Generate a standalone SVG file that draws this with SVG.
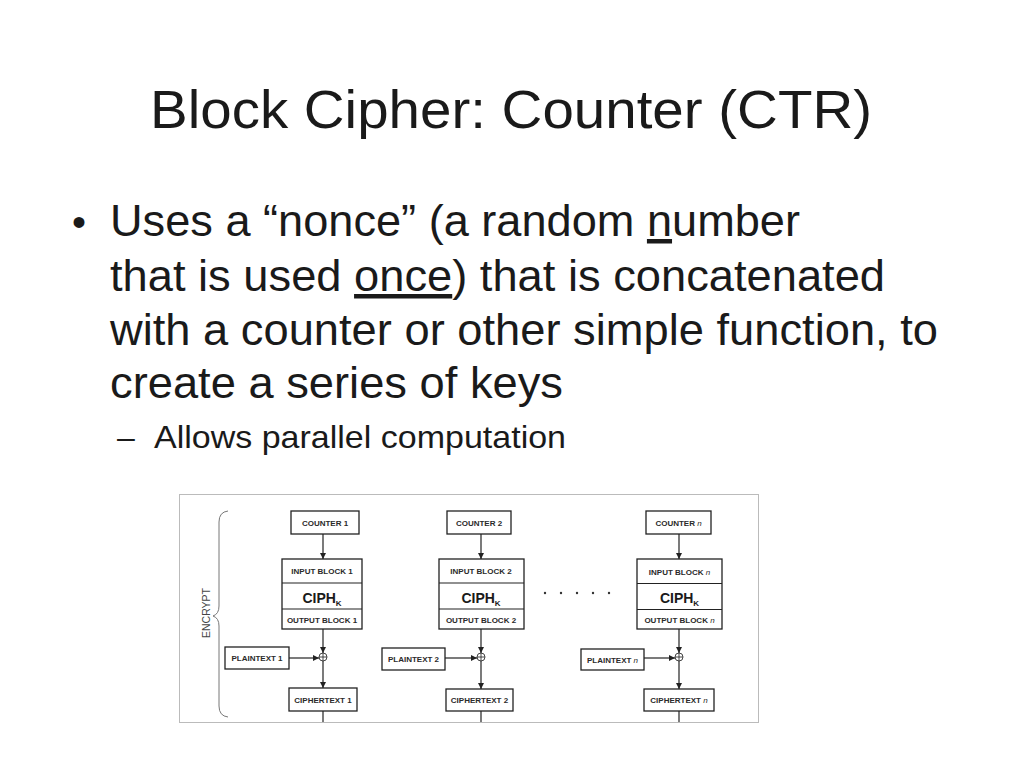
<svg xmlns="http://www.w3.org/2000/svg" width="1024" height="768" viewBox="0 0 1024 768">
<defs>
<marker id="ah" viewBox="0 0 6 6" refX="6" refY="3" markerWidth="6" markerHeight="6" markerUnits="userSpaceOnUse" orient="auto">
<path d="M0,0 L6,3 L0,6 Z" fill="#222"/>
</marker>
</defs>
<style>
.slide{font-family:"Liberation Sans",Arial,sans-serif;fill:#1a1a1a}
.box{fill:#fff;stroke:#222;stroke-width:1.3}
.lbl{font-family:"Liberation Sans",Arial,sans-serif;font-weight:bold;font-size:8px;fill:#2a2a2a;text-anchor:middle}
.ciph{font-family:"Liberation Sans",Arial,sans-serif;font-weight:bold;font-size:14px;fill:#1a1a1a;text-anchor:middle}
.con{stroke:#222;stroke-width:1.2;fill:none}
.xor{fill:#fff;stroke:#333;stroke-width:0.9}
</style>
<rect width="1024" height="768" fill="#fff"/>
<text class="slide" x="150" y="128" font-size="54" textLength="722" lengthAdjust="spacingAndGlyphs">Block Cipher: Counter (CTR)</text>
<text class="slide" x="72" y="236" font-size="40">•</text>
<text class="slide" x="110" y="236" font-size="45" textLength="690" lengthAdjust="spacingAndGlyphs">Uses a “nonce” (a random <tspan text-decoration="underline">n</tspan>umber</text>
<text class="slide" x="110" y="291" font-size="45" textLength="775" lengthAdjust="spacingAndGlyphs">that is used <tspan text-decoration="underline">once</tspan>) that is concatenated</text>
<text class="slide" x="110" y="345" font-size="45" textLength="828" lengthAdjust="spacingAndGlyphs">with a counter or other simple function, to</text>
<text class="slide" x="110" y="398" font-size="45" textLength="453" lengthAdjust="spacingAndGlyphs">create a series of keys</text>
<text class="slide" x="117" y="448" font-size="32">–</text>
<text class="slide" x="154" y="448" font-size="32" textLength="412" lengthAdjust="spacingAndGlyphs">Allows parallel computation</text>

<rect x="179.5" y="494.5" width="579" height="228" fill="#fff" stroke="#bbb" stroke-width="1"/>

<g id="encrypt">
<path d="M228,511 Q219,512 219,522 L219,606 Q219,614 213,616 Q219,618 219,626 L219,706 Q219,716 228,717" fill="none" stroke="#777" stroke-width="1"/>
<text x="0" y="0" transform="translate(210,613) rotate(-90)" font-family="Liberation Sans,Arial,sans-serif" font-size="10.5" fill="#444" text-anchor="middle">ENCRYPT</text>
</g>

<g id="counter1"><rect class="box" x="291" y="511" width="68" height="23"/><text class="lbl" x="325" y="525.5">COUNTER 1</text></g>
<g id="cipher1"><rect class="box" x="282" y="559" width="80" height="70"/><line class="con" x1="282" y1="583" x2="362" y2="583"/><line class="con" x1="282" y1="609" x2="362" y2="609"/>
<text class="lbl" x="322" y="574">INPUT BLOCK 1</text><text class="ciph" x="322" y="603">CIPH<tspan font-size="8" dy="3">K</tspan></text><text class="lbl" x="322" y="622.5">OUTPUT BLOCK 1</text></g>
<g id="plain1"><rect class="box" x="225" y="647" width="64" height="22"/><text class="lbl" x="257" y="661">PLAINTEXT 1</text></g>
<g id="xor1"><circle class="xor" cx="323" cy="657" r="4"/><path class="xor" d="M319,657 H327 M323,653 V661"/></g>
<g id="ct1"><rect class="box" x="289" y="688" width="68" height="23"/><text class="lbl" x="323" y="702.5">CIPHERTEXT 1</text></g>

<g id="counter2"><rect class="box" x="447" y="511" width="64" height="23"/><text class="lbl" x="479" y="525.5">COUNTER 2</text></g>
<g id="cipher2"><rect class="box" x="439" y="559" width="85" height="70"/><line class="con" x1="439" y1="583" x2="524" y2="583"/><line class="con" x1="439" y1="609" x2="524" y2="609"/>
<text class="lbl" x="481" y="574">INPUT BLOCK 2</text><text class="ciph" x="481" y="603">CIPH<tspan font-size="8" dy="3">K</tspan></text><text class="lbl" x="481" y="622.5">OUTPUT BLOCK 2</text></g>
<g id="plain2"><rect class="box" x="382" y="648" width="63" height="22"/><text class="lbl" x="413.5" y="662">PLAINTEXT 2</text></g>
<g id="xor2"><circle class="xor" cx="481" cy="657" r="4"/><path class="xor" d="M477,657 H485 M481,653 V661"/></g>
<g id="ct2"><rect class="box" x="446" y="689" width="67" height="22"/><text class="lbl" x="479.5" y="703">CIPHERTEXT 2</text></g>

<g id="dots" fill="#333"><circle cx="545" cy="593" r="1.2"/><circle cx="561" cy="593" r="1.2"/><circle cx="577" cy="593" r="1.2"/><circle cx="593" cy="593" r="1.2"/><circle cx="609" cy="593" r="1.2"/></g>

<g id="countern"><rect class="box" x="646" y="511" width="65" height="23"/><text class="lbl" x="678.5" y="525.5">COUNTER <tspan font-style="italic" font-weight="normal">n</tspan></text></g>
<g id="ciphern"><rect class="box" x="637" y="559" width="85" height="70"/><line class="con" x1="637" y1="583.5" x2="722" y2="583.5"/><line class="con" x1="637" y1="609.5" x2="722" y2="609.5"/>
<text class="lbl" x="679.5" y="574.5">INPUT BLOCK <tspan font-style="italic" font-weight="normal">n</tspan></text><text class="ciph" x="679.5" y="603">CIPH<tspan font-size="8" dy="3">K</tspan></text><text class="lbl" x="679.5" y="622.5">OUTPUT BLOCK <tspan font-style="italic" font-weight="normal">n</tspan></text></g>
<g id="plainn"><rect class="box" x="581" y="649" width="63" height="21"/><text class="lbl" x="612.5" y="662.5">PLAINTEXT <tspan font-style="italic" font-weight="normal">n</tspan></text></g>
<g id="xorn"><circle class="xor" cx="679" cy="657" r="4"/><path class="xor" d="M675,657 H683 M679,653 V661"/></g>
<g id="ctn"><rect class="box" x="644" y="689" width="70" height="22"/><text class="lbl" x="679" y="703">CIPHERTEXT <tspan font-style="italic" font-weight="normal">n</tspan></text></g>

<g id="connectors">
<line class="con" x1="323" y1="534" x2="323" y2="559" marker-end="url(#ah)"/>
<line class="con" x1="323" y1="629" x2="323" y2="653" marker-end="url(#ah)"/>
<line class="con" x1="289" y1="658" x2="319" y2="658" marker-end="url(#ah)"/>
<line class="con" x1="323" y1="661" x2="323" y2="688" marker-end="url(#ah)"/>
<line class="con" x1="323" y1="711" x2="323" y2="722"/>
<line class="con" x1="481" y1="534" x2="481" y2="559" marker-end="url(#ah)"/>
<line class="con" x1="481" y1="629" x2="481" y2="653" marker-end="url(#ah)"/>
<line class="con" x1="445" y1="658" x2="477" y2="658" marker-end="url(#ah)"/>
<line class="con" x1="481" y1="661" x2="481" y2="689" marker-end="url(#ah)"/>
<line class="con" x1="481" y1="711" x2="481" y2="722"/>
<line class="con" x1="679" y1="534" x2="679" y2="559" marker-end="url(#ah)"/>
<line class="con" x1="679" y1="629" x2="679" y2="653" marker-end="url(#ah)"/>
<line class="con" x1="644" y1="658" x2="675" y2="658" marker-end="url(#ah)"/>
<line class="con" x1="679" y1="661" x2="679" y2="689" marker-end="url(#ah)"/>
<line class="con" x1="679" y1="711" x2="679" y2="722"/>
</g>
</svg>
